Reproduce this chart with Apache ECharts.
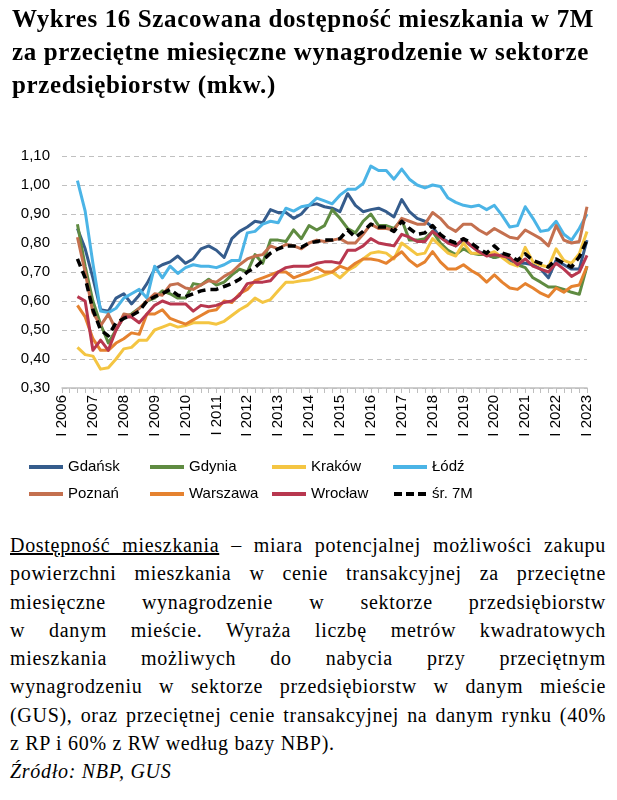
<!DOCTYPE html>
<html lang="pl"><head><meta charset="utf-8">
<script src="https://cdn.jsdelivr.net/npm/echarts@6/dist/echarts.min.js"></script>
<style>
html,body{margin:0;padding:0;background:#fff}
body{width:617px;height:800px;position:relative;overflow:hidden}
#chart{position:absolute;left:0;top:0;width:617px;height:520px}
#title{position:absolute;left:12px;top:2px;font-family:"Liberation Serif",serif;font-weight:bold;font-size:25px;line-height:33px;color:#000}
#title div{white-space:nowrap}
#note{position:absolute;left:10px;top:531px;width:596px;font-family:"Liberation Serif",serif;font-size:20px;line-height:28.3px;color:#000}
#note div{text-align:justify;text-align-last:justify}
#note div.last{text-align-last:left}
</style></head><body>
<div id="chart"></div>
<div id="title"><div id="t1">Wykres 16 Szacowana dostępność mieszkania w 7M</div><div>za przeciętne miesięczne wynagrodzenie w sektorze</div><div>przedsiębiorstw (mkw.)</div></div>
<div id="note">
<div><u>Dostępność mieszkania</u> – miara potencjalnej możliwości zakupu</div>
<div>powierzchni mieszkania w cenie transakcyjnej za przeciętne</div>
<div>miesięczne wynagrodzenie w sektorze przedsiębiorstw</div>
<div>w danym mieście. Wyraża liczbę metrów kwadratowych</div>
<div>mieszkania możliwych do nabycia przy przeciętnym</div>
<div>wynagrodzeniu w sektorze przedsiębiorstw w danym mieście</div>
<div>(GUS), oraz przeciętnej cenie transakcyjnej na danym rynku (40%</div>
<div class="last">z RP i 60% z RW według bazy NBP).</div>
<div class="last"><i>Źródło: NBP, GUS</i></div>
</div>
<script>
// ---- categories (quarters I 2006 .. I 2023) ----
const quarterNames = ['I', 'II', 'III', 'IV'];
const firstYear = 2006;
const lastYear = 2023;
const categories = [];
for (let y = firstYear; y <= lastYear; y++) {
  for (let q = 0; q < 4; q++) {
    if (y === lastYear && q > 0) break;
    categories.push(quarterNames[q] + ' ' + y);
  }
}
// ---- y axis ----
const yMin = 0.3, yMax = 1.1, yStep = 0.1;

// ---- series values (I 2006 .. I 2023, data start III 2006) ----
const gdansk = [null, null,
  0.85, 0.78,
  0.68, 0.57, 0.565, 0.61,
  0.625, 0.59, 0.62, 0.66,
  0.71, 0.725, 0.735, 0.755,
  0.73, 0.745, 0.78, 0.79,
  0.775, 0.75, 0.815, 0.84,
  0.855, 0.875, 0.87, 0.915,
  0.905, 0.905, 0.885, 0.90,
  0.93, 0.935, 0.925, 0.92,
  0.908, 0.97, 0.93, 0.908,
  0.915, 0.92, 0.908, 0.89,
  0.95, 0.908, 0.885, 0.875,
  0.855, 0.82, 0.805, 0.79,
  0.81, 0.79, 0.77, 0.76,
  0.75, 0.76, 0.74, 0.73,
  0.73, 0.725, 0.71, 0.68,
  0.74, 0.725, 0.71, 0.71,
  0.81];
const gdynia = [null, null,
  0.865, 0.72,
  0.60, 0.52, 0.455, 0.50,
  0.545, 0.555, 0.575, 0.60,
  0.61, 0.635, 0.625, 0.61,
  0.61, 0.66, 0.655, 0.675,
  0.655, 0.665, 0.69, 0.71,
  0.70, 0.76, 0.73, 0.81,
  0.81, 0.805, 0.845, 0.815,
  0.86, 0.845, 0.86, 0.915,
  0.885, 0.85, 0.835, 0.875,
  0.90, 0.86, 0.86, 0.85,
  0.88, 0.81, 0.81, 0.815,
  0.84, 0.80, 0.775, 0.76,
  0.78, 0.765, 0.76, 0.76,
  0.75, 0.755, 0.75, 0.725,
  0.715, 0.68, 0.665, 0.648,
  0.648, 0.64, 0.63, 0.623,
  0.72];
const krakow = [null, null,
  0.44, 0.415,
  0.41, 0.365, 0.37, 0.40,
  0.435, 0.44, 0.465, 0.465,
  0.50, 0.51, 0.52, 0.51,
  0.515, 0.525, 0.525, 0.525,
  0.52, 0.53, 0.55, 0.57,
  0.585, 0.61, 0.595, 0.605,
  0.635, 0.665, 0.665, 0.67,
  0.672, 0.68, 0.69, 0.70,
  0.68, 0.705, 0.72, 0.745,
  0.765, 0.77, 0.765, 0.745,
  0.80, 0.78, 0.76, 0.765,
  0.815, 0.79, 0.765, 0.755,
  0.80, 0.765, 0.765, 0.76,
  0.77, 0.75, 0.73, 0.72,
  0.785, 0.735, 0.723, 0.717,
  0.78, 0.74, 0.73, 0.763,
  0.84];
const lodz = [null, null,
  1.015, 0.91,
  0.73, 0.565, 0.56, 0.575,
  0.61, 0.625, 0.64, 0.61,
  0.72, 0.68, 0.72, 0.695,
  0.715, 0.725, 0.72, 0.72,
  0.715, 0.725, 0.74, 0.74,
  0.835, 0.84, 0.865, 0.875,
  0.87, 0.92, 0.91, 0.925,
  0.93, 0.955, 0.945, 0.935,
  0.965, 0.985, 0.985, 1.005,
  1.065, 1.05, 1.05, 1.02,
  1.055, 1.02, 1.00, 0.99,
  1.00, 0.995, 0.955, 0.94,
  0.93, 0.925, 0.93, 0.915,
  0.93, 0.895, 0.855, 0.86,
  0.925, 0.885, 0.84, 0.845,
  0.875, 0.83, 0.81, 0.85,
  0.90];
const poznan = [null, null,
  0.82, 0.70,
  0.56, 0.515, 0.555, 0.50,
  0.555, 0.55, 0.575, 0.60,
  0.625, 0.62, 0.655, 0.66,
  0.645, 0.64, 0.655, 0.67,
  0.665, 0.685, 0.70, 0.725,
  0.745, 0.755, 0.76, 0.79,
  0.78, 0.795, 0.79, 0.78,
  0.80, 0.81, 0.805, 0.81,
  0.815, 0.80, 0.80, 0.83,
  0.865, 0.85, 0.85, 0.845,
  0.885, 0.875, 0.865, 0.865,
  0.905, 0.885, 0.855, 0.84,
  0.865, 0.865, 0.845, 0.83,
  0.85, 0.835, 0.82, 0.815,
  0.845, 0.83, 0.815, 0.79,
  0.86, 0.81, 0.80, 0.805,
  0.925];
const warszawa = [null, null,
  0.585, 0.545,
  0.47, 0.43, 0.43, 0.455,
  0.47, 0.49, 0.485, 0.555,
  0.555, 0.57, 0.54, 0.53,
  0.52, 0.535, 0.55, 0.565,
  0.57, 0.60, 0.595, 0.625,
  0.64, 0.67, 0.68, 0.69,
  0.70, 0.70, 0.68, 0.69,
  0.70, 0.715, 0.70, 0.70,
  0.72, 0.71, 0.73, 0.745,
  0.745, 0.74, 0.73, 0.75,
  0.77, 0.74, 0.72, 0.735,
  0.77, 0.735, 0.71, 0.71,
  0.725, 0.705, 0.69, 0.665,
  0.69, 0.665, 0.645, 0.64,
  0.66, 0.645, 0.627, 0.615,
  0.645, 0.63, 0.65, 0.655,
  0.72];
const wroclaw = [null, null,
  0.615, 0.60,
  0.43, 0.465, 0.43, 0.50,
  0.545, 0.545, 0.525, 0.555,
  0.585, 0.60, 0.59, 0.59,
  0.59, 0.565, 0.585, 0.58,
  0.585, 0.595, 0.60, 0.62,
  0.66, 0.665, 0.665, 0.67,
  0.70, 0.715, 0.72, 0.72,
  0.72, 0.73, 0.735, 0.735,
  0.73, 0.775, 0.775, 0.79,
  0.815, 0.80, 0.795, 0.79,
  0.83, 0.82, 0.805, 0.805,
  0.84, 0.82, 0.80, 0.79,
  0.815, 0.79, 0.77, 0.755,
  0.76, 0.755, 0.75, 0.725,
  0.745, 0.72, 0.71, 0.70,
  0.73, 0.71, 0.685, 0.70,
  0.757];
const avg7M = [null, null,
  0.745, 0.68,
  0.57, 0.50, 0.48, 0.525,
  0.54, 0.55, 0.565, 0.60,
  0.615, 0.625, 0.64, 0.62,
  0.615, 0.625, 0.635, 0.64,
  0.64, 0.65, 0.66, 0.675,
  0.70, 0.715, 0.74, 0.765,
  0.78, 0.79, 0.79, 0.785,
  0.80, 0.805, 0.81, 0.81,
  0.815, 0.845, 0.82, 0.84,
  0.865, 0.855, 0.855, 0.84,
  0.875, 0.85, 0.83, 0.835,
  0.86, 0.83, 0.81, 0.80,
  0.815, 0.80, 0.78, 0.765,
  0.79, 0.765, 0.757, 0.74,
  0.763, 0.74, 0.73, 0.717,
  0.745, 0.73, 0.717, 0.752,
  0.81];

const seriesNames = ['Gdańsk', 'Gdynia', 'Kraków', 'Łódź', 'Poznań', 'Warszawa', 'Wrocław', 'śr. 7M'];
const seriesData = [gdansk, gdynia, krakow, lodz, poznan, warszawa, wroclaw, avg7M];
const seriesColors = ['#355c8c', '#5f8b41', '#f4c542', '#4bb4e6', '#c4704f', '#e5822f', '#b8374f', '#000000'];

// fit title letter spacing to reference width
(function () {
  const t1 = document.getElementById('t1');
  const w = t1.getBoundingClientRect().width;
  const n = t1.textContent.length;
  const ls = (582 - w) / n;
  document.getElementById('title').style.letterSpacing = ls.toFixed(3) + 'px';
})();
// widen paragraph text a little (reference font is wider), without breaking lines
(function () {
  const ctx = document.createElement('canvas').getContext('2d');
  ctx.font = '20px "Liberation Serif"';
  let ls = 0.7;
  document.querySelectorAll('#note div').forEach(d => {
    const t = d.textContent;
    const w = ctx.measureText(t).width;
    const l = (590 - w) / t.length;
    if (l < ls) ls = l;
  });
  document.getElementById('note').style.letterSpacing = Math.max(0, ls).toFixed(3) + 'px';
})();

const font = '"Liberation Sans", Arial, sans-serif';
const chart = echarts.init(document.getElementById('chart'), null, { renderer: 'canvas' });

const series = seriesNames.map((name, k) => ({
  type: 'line',
  name: name,
  data: seriesData[k],
  symbol: 'none',
  showSymbol: false,
  connectNulls: false,
  z: 2 + k,
  itemStyle: { color: seriesColors[k] },
  lineStyle: {
    color: seriesColors[k],
    width: name === 'śr. 7M' ? 3.5 : 3,
    type: name === 'śr. 7M' ? [8, 5] : 'solid',
    cap: 'butt',
    join: 'round'
  },
  emphasis: { disabled: true }
}));

const dashIcon = 'path://M0,0H8V4H0Z M12,0H20V4H12Z M24,0H32V4H24Z';
const legendCols = [['Gdańsk', 'Poznań'], ['Gdynia', 'Warszawa'], ['Kraków', 'Wrocław'], ['Łódź', 'śr. 7M']];
const legendLeft = [29, 150, 272, 393];
const legends = legendCols.map((names, c) => ({
  orient: 'vertical',
  left: legendLeft[c],
  top: 458,
  padding: 0,
  itemWidth: 34,
  itemHeight: 4,
  itemGap: 9,
  selectedMode: false,
  itemStyle: { borderWidth: 0 },
  textStyle: { fontSize: 15, color: '#000', lineHeight: 18, fontFamily: font },
  data: names.map(n => ({ name: n, icon: n === 'śr. 7M' ? dashIcon : 'rect' }))
}));

chart.setOption({
  animation: false,
  textStyle: { fontFamily: font },
  grid: { left: 62, right: 30, top: 156, bottom: 132, containLabel: false, outerBoundsMode: 'none' },
  xAxis: {
    type: 'category',
    data: categories,
    boundaryGap: false,
    axisLine: { show: true, lineStyle: { color: '#bfbfbf', width: 1.5 } },
    axisTick: { show: true, interval: 0, length: 5, lineStyle: { color: '#bfbfbf', width: 1 } },
    axisLabel: {
      interval: (i) => i % 4 === 0,
      rotate: 90,
      fontSize: 15,
      color: '#000',
      margin: 7,
      fontFamily: font
    },
    splitLine: { show: false }
  },
  yAxis: {
    type: 'value',
    min: yMin,
    max: yMax,
    interval: yStep,
    axisLine: { show: false },
    axisTick: { show: false },
    axisLabel: {
      formatter: (v) => v.toFixed(2).replace('.', ','),
      fontSize: 15,
      color: '#000',
      margin: 12,
      fontFamily: font
    },
    splitLine: { show: true, lineStyle: { color: '#c0c0c0', type: [5, 4], width: 1 } }
  },
  legend: legends,
  series: series
});
</script>
</body></html>
